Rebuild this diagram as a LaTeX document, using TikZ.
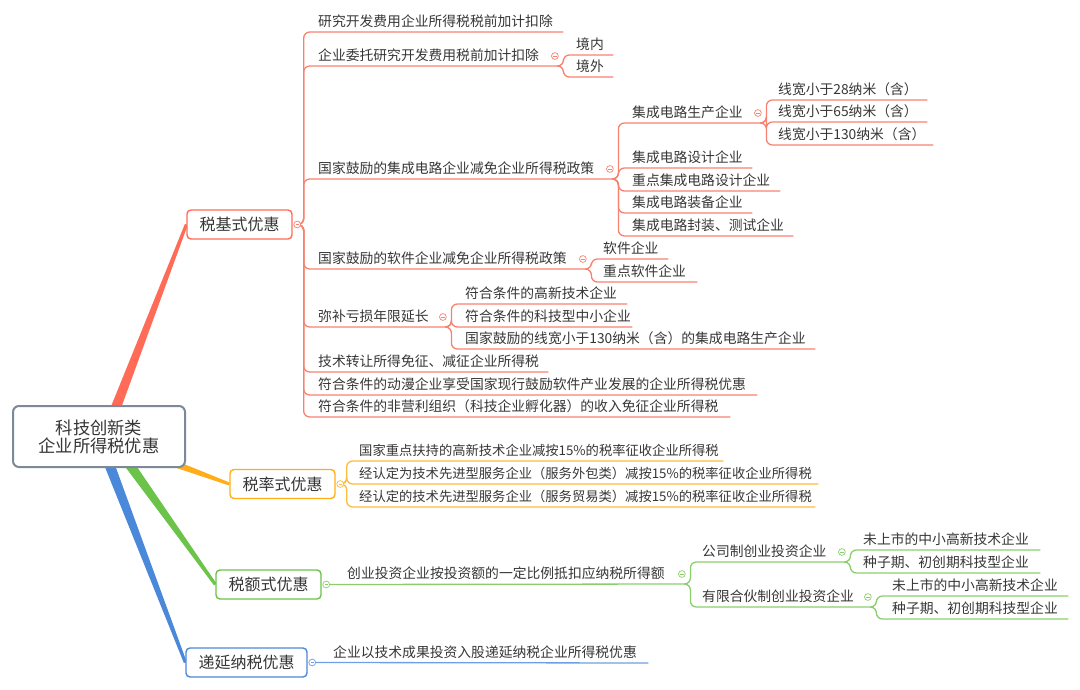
\documentclass[tikz,border=0pt]{standalone}
\usepackage{fontspec}
\setmainfont{Noto Sans CJK SC}
\usetikzlibrary{calc,backgrounds}
\definecolor{tc}{HTML}{363636}
\definecolor{cR}{HTML}{FF6B57}
\definecolor{cRl}{HTML}{F7826F}
\definecolor{cO}{HTML}{FFAE1A}
\definecolor{cOl}{HTML}{FCBC3E}
\definecolor{cG}{HTML}{6CC349}
\definecolor{cGl}{HTML}{8ACF6C}
\definecolor{cB}{HTML}{4A88DA}
\definecolor{cBl}{HTML}{6E9FE4}
\definecolor{cRoot}{HTML}{7D8898}
\newcommand\mytaper[4]{\fill[#4] ($(#1)!5.5pt!90:(#2)$) -- ($(#2)!#3!-90:(#1)$) -- ($(#2)!#3!90:(#1)$) -- ($(#1)!5.5pt!-90:(#2)$) -- cycle;}
\tikzset{
  txt/.style={anchor=south west, inner xsep=0pt, inner ysep=5pt, text depth=0pt, text width=#1, align=left, text=tc, font=\fontsize{13.8}{16}\selectfont},
  narrowtxt/.style={font=\fontsize{13.3}{16}\selectfont},
  lone/.style={draw=#1, line width=1.4pt, rounded corners=4pt, fill=white, text=tc, minimum height=29pt, inner sep=0pt, font=\fontsize{16}{18}\selectfont},
  rootbox/.style={draw=cRoot, line width=2pt, rounded corners=6pt, fill=white, text=tc, minimum width=172pt, minimum height=61pt, align=center, font=\fontsize{17.3}{18}\selectfont},
  lnR/.style={draw=cRl, line width=1.3pt, rounded corners=6pt},
  lnO/.style={draw=cOl, line width=1.3pt, rounded corners=6pt},
  lnG/.style={draw=cGl, line width=1.3pt, rounded corners=6pt},
  lnB/.style={draw=cBl, line width=1.3pt, rounded corners=6pt},
  pics/cminus/.style={code={\draw[line width=0.7pt,fill=white] (0pt,0pt) circle (3.4pt); \draw[line width=0.7pt] (-1.7pt,0pt) -- (1.7pt,0pt);}}
}
\begin{document}
\begin{tikzpicture}[x=1pt,y=-1pt]
\useasboundingbox (0,0) rectangle (1080,690);

% root and level-1
\node[rootbox] (root) at (99,436.5) {科技创新类\\企业所得税优惠};
\node[lone=cR, minimum width=105pt] (b1) at (239.5,224.5) {税基式优惠};
\node[lone=cO, minimum width=105pt] (b2) at (282.5,484) {税率式优惠};
\node[lone=cG, minimum width=105pt] (b3) at (268.5,584.5) {税额式优惠};
\node[lone=cB, minimum width=121pt] (b4) at (246.5,662.5) {递延纳税优惠};
\coordinate (s1) at (105,436);
\coordinate (s2) at (110,440);
\coordinate (s3) at (112,440);
\coordinate (s4) at (100,440);
\begin{scope}[on background layer]
\mytaper{s1}{b1.west}{1.5pt}{cR}
\mytaper{s2}{b2.west}{1.5pt}{cO}
\mytaper{s3}{b3.west}{1.5pt}{cG}
\mytaper{s4}{b4.west}{1.5pt}{cB}
\end{scope}
\foreach \b in {1,2,3,4} \coordinate (p\b) at ($(b\b.east)+(8,0)$);

% ---------- 税基式优惠 ----------
\node[txt=245pt] (k1) at (318,32) {研究开发费用企业所得税税前加计扣除};
\node[txt=242pt] (k2) at (318,66) {企业委托研究开发费用税前加计扣除};
\node[txt=297pt] (k3) at (318,179) {国家鼓励的集成电路企业减免企业所得税政策};
\node[txt=270pt] (k4) at (318,269) {国家鼓励的软件企业减免企业所得税政策};
\node[txt=130pt] (k5) at (318,327) {弥补亏损年限延长};
\node[txt=230pt] (k6) at (318,372) {技术转让所得免征、减征企业所得税};
\node[txt=439pt] (k7) at (318,395) {符合条件的动漫企业享受国家现行鼓励软件产业发展的企业所得税优惠};
\node[txt=412pt] (k8) at (318,417) {符合条件的非营利组织（科技企业孵化器）的收入免征企业所得税};
\foreach \c in {k1,k2,k3,k4,k5,k6,k7,k8} \draw[lnR] (p1) -- ++(3,0) |- (\c.south west) -- (\c.south east);

\node[txt=37pt] (j1) at (576,55) {境内};
\node[txt=37pt] (j2) at (576,77) {境外};
\foreach \c in {j1,j2} \draw[lnR] (k2.south east) -- ++(3,0) |- (\c.south west) -- (\c.south east);

\node[txt=131pt] (m1) at (632,123) {集成电路生产企业};
\node[txt=120pt] (m2) at (632,168) {集成电路设计企业};
\node[txt=148pt] (m3) at (632,191) {重点集成电路设计企业};
\node[txt=120pt] (m4) at (632,213) {集成电路装备企业};
\node[txt=161pt] (m5) at (632,236) {集成电路封装、测试企业};
\foreach \c in {m1,m2,m3,m4,m5} \draw[lnR] (k3.south east) -- ++(3,0) |- (\c.south west) -- (\c.south east);

\node[txt=149pt] (n1) at (778,100) {线宽小于28纳米（含）};
\node[txt=149pt] (n2) at (778,122) {线宽小于65纳米（含）};
\node[txt=155pt] (n3) at (778,145) {线宽小于130纳米（含）};
\foreach \c in {n1,n2,n3} \draw[lnR] (m1.south east) -- ++(3,0) |- (\c.south west) -- (\c.south east);

\node[txt=65pt] (s1n) at (603,259) {软件企业};
\node[txt=94pt] (s2n) at (603,282) {重点软件企业};
\foreach \c in {s1n,s2n} \draw[lnR] (k4.south east) -- ++(3,0) |- (\c.south west) -- (\c.south east);

\node[txt=162pt] (q1) at (465,304) {符合条件的高新技术企业};
\node[txt=167pt] (q2) at (465,327) {符合条件的科技型中小企业};
\node[txt=350pt] (q3) at (465,349) {国家鼓励的线宽小于130纳米（含）的集成电路生产企业};
\foreach \c in {q1,q2,q3} \draw[lnR] (k5.south east) -- ++(3,0) |- (\c.south west) -- (\c.south east);

\pic[color=cRl] at ($(b1.east)+(4.5,0)$) {cminus};
\foreach \c in {k2,k3,k4,k5,m1} \pic[color=cRl] at ($(\c.south east)+(-5.5,-10)$) {cminus};

% ---------- 税率式优惠 ----------
\node[txt=364pt, narrowtxt] (r1) at (359,461) {国家重点扶持的高新技术企业减按15\%的税率征收企业所得税};
\node[txt=459pt, narrowtxt] (r2) at (359,484) {经认定为技术先进型服务企业（服务外包类）减按15\%的税率征收企业所得税};
\node[txt=456pt, narrowtxt] (r3) at (359,507) {经认定的技术先进型服务企业（服务贸易类）减按15\%的税率征收企业所得税};
\foreach \c in {r1,r2,r3} \draw[lnO] (p2) -- ++(3,0) |- (\c.south west) -- (\c.south east);
\pic[color=cOl] at ($(b2.east)+(4.5,0)$) {cminus};

% ---------- 税额式优惠 ----------
\node[txt=340pt] (t1) at (347,584) {创业投资企业按投资额的一定比例抵扣应纳税所得额};
\draw[lnG] (p3) -- (t1.south east);
\node[txt=145pt] (u1) at (702,562) {公司制创业投资企业};
\node[txt=171pt] (u2) at (702,607) {有限合伙制创业投资企业};
\foreach \c in {u1,u2} \draw[lnG] (t1.south east) -- ++(3,0) |- (\c.south west) -- (\c.south east);
\node[txt=177pt] (v1) at (863,550) {未上市的中小高新技术企业};
\node[txt=177pt] (v2) at (863,573) {种子期、初创期科技型企业};
\foreach \c in {v1,v2} \draw[lnG] (u1.south east) -- ++(3,0) |- (\c.south west) -- (\c.south east);
\node[txt=176pt] (v3) at (892,596) {未上市的中小高新技术企业};
\node[txt=176pt] (v4) at (892,619) {种子期、初创期科技型企业};
\foreach \c in {v3,v4} \draw[lnG] (u2.south east) -- ++(3,0) |- (\c.south west) -- (\c.south east);
\pic[color=cGl] at ($(b3.east)+(4.5,0)$) {cminus};
\foreach \c in {t1,u1,u2} \pic[color=cGl] at ($(\c.south east)+(-5.5,-10)$) {cminus};

% ---------- 递延纳税优惠 ----------
\node[txt=315pt] (w1) at (333,663) {企业以技术成果投资入股递延纳税企业所得税优惠};
\draw[lnB] (p4) -- (w1.south east);
\pic[color=cBl] at ($(b4.east)+(4.5,0)$) {cminus};
\end{tikzpicture}
\end{document}
